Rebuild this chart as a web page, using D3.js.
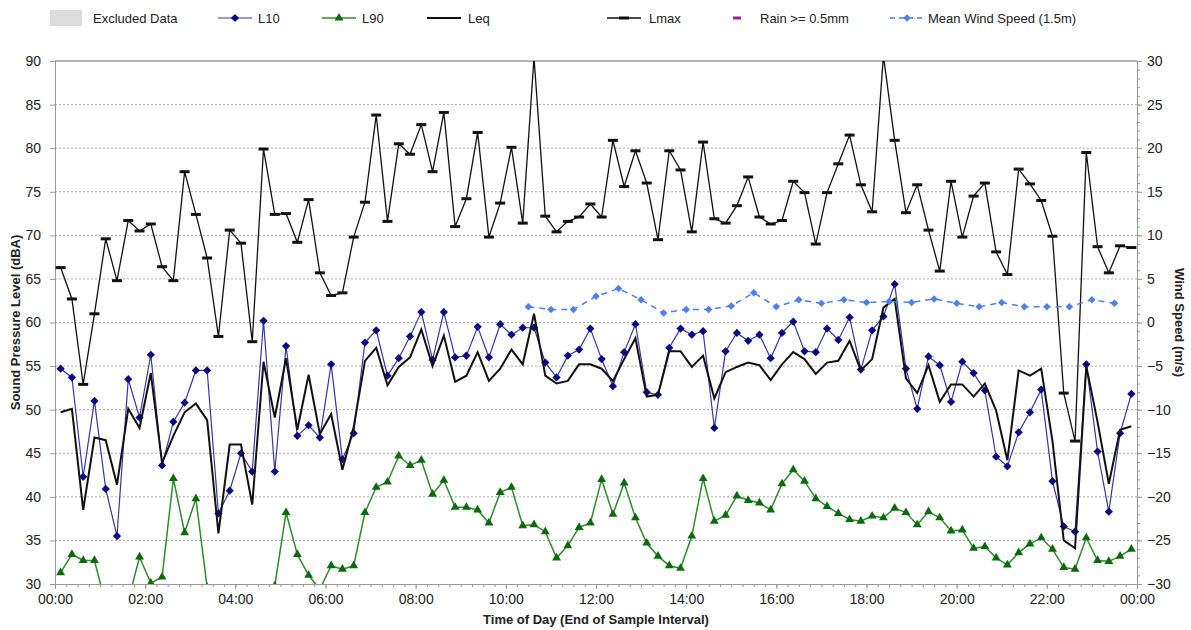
<!DOCTYPE html>
<html>
<head>
<meta charset="utf-8">
<script src="https://cdn.jsdelivr.net/npm/d3@7"></script>
<style>
body { margin: 0; background: #fff; }
text { font-family: "Liberation Sans", Arial, sans-serif; fill: #222; }
</style>
</head>
<body>
<svg width="1191" height="630"></svg>
<script>
// 15 minute intervals, plotted at the middle of each slot
var slots = d3.range(96).map((i) => 7.5 + 15 * i);
// wind logged every 30 min from 10:30 to 23:30
var windTimes = d3.range(630, 1411, 30);

var L10 = [54.7, 53.7, 42.3, 51.0, 40.9, 35.5, 53.5, 49.1, 56.3, 43.6, 48.6, 50.8, 54.5, 54.5, 38.1, 40.7,
	45.0, 42.9, 60.2, 42.9, 57.3, 47.0, 48.2, 46.8, 55.2, 44.3, 47.3, 57.7, 59.1, 53.9, 55.9, 58.4,
	61.2, 55.7, 61.2, 56.0, 56.2, 59.5, 56.0, 59.8, 58.6, 59.4, 59.4, 55.4, 53.7, 56.2, 56.9, 59.3,
	55.8, 52.7, 56.6, 59.8, 52.0, 51.7, 57.1, 59.3, 58.6, 59.0, 47.9, 56.7, 58.8, 57.9, 58.6, 55.9,
	58.8, 60.1, 56.7, 56.6, 59.3, 58.0, 60.6, 54.6, 59.1, 60.7, 64.4, 54.7, 50.1, 56.1, 55.1, 50.9,
	55.5, 54.2, 52.2, 44.6, 43.5, 47.4, 49.7, 52.3, 41.8, 36.6, 36.0, 55.2, 45.2, 38.3, 47.3, 51.8];

var L90 = [31.3, 33.4, 32.7, 32.7, 27.7, 26.5, 28.1, 33.1, 30.1, 30.8, 42.1, 35.9, 39.8, 29.6, 27.5, 26.8,
	27.2, 28.0, 27.0, 29.8, 38.2, 33.4, 31.0, 29.4, 32.1, 31.7, 32.1, 38.2, 41.1, 41.7, 44.7, 43.6,
	44.2, 40.3, 41.9, 38.8, 38.8, 38.5, 37.0, 40.5, 41.1, 36.7, 36.8, 36.0, 33.0, 34.4, 36.5, 37.0,
	42.0, 38.0, 41.6, 37.6, 34.7, 33.2, 32.1, 31.8, 35.5, 42.1, 37.2, 37.9, 40.1, 39.6, 39.3, 38.5,
	41.5, 43.1, 41.8, 39.8, 38.9, 38.1, 37.4, 37.2, 37.8, 37.6, 38.7, 38.2, 36.8, 38.3, 37.6, 36.1,
	36.2, 34.1, 34.3, 33.0, 32.2, 33.6, 34.6, 35.3, 34.0, 31.9, 31.7, 35.3, 32.7, 32.6, 33.2, 34.0];

var Leq = [49.7, 50.1, 38.5, 46.8, 46.5, 41.4, 50.1, 47.9, 54.2, 43.9, 47.0, 49.7, 50.7, 48.8, 35.8, 46.0,
	46.0, 39.1, 55.5, 49.1, 55.9, 47.7, 54.0, 47.2, 49.5, 43.1, 48.0, 55.6, 57.1, 52.8, 54.9, 56.0,
	59.2, 55.0, 58.5, 53.2, 53.9, 56.6, 53.3, 54.7, 56.9, 55.2, 61.0, 53.9, 53.0, 53.3, 55.2, 55.2,
	54.7, 53.3, 55.8, 58.2, 51.5, 51.7, 56.7, 56.7, 54.9, 56.2, 51.3, 54.3, 54.9, 55.4, 55.1, 53.4,
	55.2, 56.6, 55.8, 54.1, 55.4, 55.6, 57.9, 54.5, 55.8, 61.7, 62.7, 53.6, 51.9, 55.1, 50.9, 52.9,
	52.9, 51.5, 53.0, 49.9, 44.2, 54.5, 53.9, 54.7, 46.4, 35.0, 34.1, 55.0, 48.6, 41.5, 47.7, 48.1];

var Lmax = [66.3, 62.7, 52.9, 61.0, 69.6, 64.8, 71.7, 70.5, 71.3, 66.4, 64.8, 77.3, 72.4, 67.4, 58.4, 70.6,
	69.1, 57.8, 79.9, 72.4, 72.5, 69.2, 74.1, 65.7, 63.1, 63.4, 69.8, 73.8, 83.8, 71.6, 80.5, 79.3,
	82.7, 77.3, 84.1, 71.0, 74.2, 81.8, 69.8, 73.7, 80.1, 71.4, 90.4, 72.2, 70.4, 71.6, 72.1, 73.6,
	72.1, 80.9, 75.6, 79.7, 76.0, 69.5, 79.7, 77.5, 70.4, 80.7, 71.9, 71.4, 73.4, 76.7, 72.1, 71.3,
	71.7, 76.2, 74.9, 69.0, 74.9, 78.2, 81.5, 75.8, 72.7, 90.6, 80.9, 72.6, 75.8, 70.6, 65.9, 76.2,
	69.8, 74.5, 76.0, 68.1, 65.5, 77.6, 75.9, 74.0, 69.9, 51.9, 46.4, 79.5, 68.7, 65.7, 68.8, 68.6];

var wind = [1.8, 1.5, 1.5, 3.0, 3.9, 2.6, 1.1, 1.5, 1.5, 1.9, 3.4, 1.8, 2.6, 2.2,
	2.6, 2.3, 2.4, 2.3, 2.7, 2.2, 1.8, 2.3, 1.8, 1.8, 1.8, 2.6, 2.2];

var dbTicks = d3.range(30, 91, 5);
var windTicks = d3.range(-30, 31, 5);
var hourTicks = d3.range(0, 1441, 120);

let svg = d3.select('svg');
let m = { left: 55, right: 1137, top: 61, bottom: 584 };

let x = d3.scaleLinear().domain([0, 1440]).range([m.left, m.right]);
let y = d3.scaleLinear().domain([30, 90]).range([m.bottom, m.top]);
let yw = d3.scaleLinear().domain([-30, 30]).range([m.bottom, m.top]);

svg.append('clipPath').attr('id', 'plot')
	.append('rect')
	.attr('x', m.left).attr('y', m.top)
	.attr('width', m.right - m.left).attr('height', m.bottom - m.top);

// gridlines
svg.selectAll('.grid')
	.data(dbTicks.filter((d) => d > 30 && d < 90))
	.enter()
	.append('line')
	.attr('x1', m.left).attr('x2', m.right)
	.attr('y1', (d) => y(d)).attr('y2', (d) => y(d))
	.attr('stroke', '#aaa')
	.attr('stroke-dasharray', '2,2');

svg.append('line')
	.attr('x1', m.left).attr('x2', m.right)
	.attr('y1', m.top).attr('y2', m.top)
	.attr('stroke', '#999').attr('stroke-width', 1.5);

// axes
function styleAxis(g, size) {
	g.select('.domain').attr('stroke', '#999');
	g.selectAll('.tick line').attr('stroke', '#999');
	g.selectAll('text').style('font-size', size + 'px').attr('fill', '#222');
}

let hh = (d) => d3.format('02d')((d / 60) % 24) + ':00';

svg.append('g')
	.attr('transform', 'translate(0,' + m.bottom + ')')
	.call(d3.axisBottom(x).tickValues(d3.range(0, 1441, 15)).tickSize(3).tickFormat(''))
	.call((g) => styleAxis(g, 14));
svg.append('g')
	.attr('transform', 'translate(0,' + m.bottom + ')')
	.call(d3.axisBottom(x).tickValues(hourTicks).tickSize(5).tickPadding(5).tickFormat(hh))
	.call((g) => styleAxis(g, 14));

svg.append('g')
	.attr('transform', 'translate(' + m.left + ',0)')
	.call(d3.axisLeft(y).tickValues(dbTicks).tickSize(5).tickPadding(9))
	.call((g) => styleAxis(g, 14));

svg.append('g')
	.attr('transform', 'translate(' + m.right + ',0)')
	.call(d3.axisRight(yw).tickValues(d3.range(-30, 31, 1)).tickSize(3).tickFormat(''))
	.call((g) => styleAxis(g, 14));
svg.append('g')
	.attr('transform', 'translate(' + m.right + ',0)')
	.call(d3.axisRight(yw).tickValues(windTicks).tickSize(5).tickPadding(5))
	.call((g) => styleAxis(g, 14));

// axis titles
svg.append('text')
	.attr('x', (m.left + m.right) / 2).attr('y', 624)
	.attr('text-anchor', 'middle')
	.style('font-size', '13px').style('font-weight', 'bold')
	.text('Time of Day (End of Sample Interval)');

svg.append('text')
	.attr('transform', 'translate(20,' + (m.top + m.bottom) / 2 + ') rotate(-90)')
	.attr('text-anchor', 'middle')
	.style('font-size', '13px').style('font-weight', 'bold')
	.text('Sound Pressure Level (dBA)');

svg.append('text')
	.attr('transform', 'translate(1175,' + (m.top + m.bottom) / 2 + ') rotate(90)')
	.attr('text-anchor', 'middle')
	.style('font-size', '13px').style('font-weight', 'bold')
	.text('Wind Speed (m/s)');

// series
let plot = svg.append('g').attr('clip-path', 'url(#plot)');

// excel style diamond = square turned 45 degrees
let diamond = {
	draw: function (ctx, size) {
		let r = Math.sqrt(size / 2);
		ctx.moveTo(0, -r);
		ctx.lineTo(r, 0);
		ctx.lineTo(0, r);
		ctx.lineTo(-r, 0);
		ctx.closePath();
	}
};

function drawLine(values, times, scale, colour, width, dash) {
	let line = d3.line().x((d, i) => x(times[i])).y((d) => scale(d));
	plot.append('path')
		.attr('d', line(values))
		.attr('fill', 'none')
		.attr('stroke', colour)
		.attr('stroke-width', width)
		.attr('stroke-dasharray', dash || null);
}

function drawSymbols(values, times, scale, type, size, colour) {
	plot.selectAll(null)
		.data(values)
		.enter()
		.append('path')
		.attr('d', d3.symbol().type(type).size(size))
		.attr('transform', (d, i) => 'translate(' + x(times[i]) + ',' + scale(d) + ')')
		.attr('fill', colour);
}

drawLine(Lmax, slots, y, '#111', 1.3);
plot.selectAll('.lmax')
	.data(Lmax)
	.enter()
	.append('rect')
	.attr('x', (d, i) => x(slots[i]) - 5)
	.attr('y', (d) => y(d) - 1.5)
	.attr('width', 10).attr('height', 3)
	.attr('fill', '#111');

drawLine(L90, slots, y, '#2e8b2e', 1.5);
drawSymbols(L90, slots, y, d3.symbolTriangle, 34, '#0b6b0b');

drawLine(L10, slots, y, '#3535a8', 1.2);
drawSymbols(L10, slots, y, diamond, 34, '#0a0a85');

drawLine(Leq, slots, y, '#111', 2);

drawLine(wind, windTimes, yw, '#4d7ff0', 1.5, '6,5');
drawSymbols(wind, windTimes, yw, diamond, 28, '#4d7ff0');

// legend
let legend = svg.append('g').style('font-size', '13px');
let ly = 18;
legend.append('rect').attr('x', 50).attr('y', 10).attr('width', 32).attr('height', 16).attr('fill', '#dcdcdc');
legend.append('text').attr('x', 93).attr('y', ly + 5).text('Excluded Data');

function legendLine(x0, colour, width, dash) {
	legend.append('line')
		.attr('x1', x0).attr('x2', x0 + 34)
		.attr('y1', ly).attr('y2', ly)
		.attr('stroke', colour).attr('stroke-width', width)
		.attr('stroke-dasharray', dash || null);
}
function legendSymbol(cx, type, size, colour) {
	legend.append('path')
		.attr('d', d3.symbol().type(type).size(size))
		.attr('transform', 'translate(' + cx + ',' + ly + ')')
		.attr('fill', colour);
}

legendLine(218, '#3535a8', 1.2);
legendSymbol(235, diamond, 34, '#0a0a85');
legend.append('text').attr('x', 258).attr('y', ly + 5).text('L10');

legendLine(322, '#2e8b2e', 1.5);
legendSymbol(339, d3.symbolTriangle, 34, '#0b6b0b');
legend.append('text').attr('x', 362).attr('y', ly + 5).text('L90');

legendLine(427, '#111', 2);
legend.append('text').attr('x', 468).attr('y', ly + 5).text('Leq');

legendLine(607, '#111', 1.3);
legend.append('rect').attr('x', 619).attr('y', ly - 1.5).attr('width', 10).attr('height', 3).attr('fill', '#111');
legend.append('text').attr('x', 649).attr('y', ly + 5).text('Lmax');

legend.append('rect').attr('x', 733).attr('y', ly - 1.5).attr('width', 8).attr('height', 3).attr('fill', '#a0209a');
legend.append('text').attr('x', 760).attr('y', ly + 5).text('Rain >= 0.5mm');

legendLine(890, '#4d7ff0', 1.5, '5,4');
legendSymbol(907, diamond, 28, '#4d7ff0');
legend.append('text').attr('x', 928).attr('y', ly + 5).text('Mean Wind Speed (1.5m)');
</script>
</body>
</html>
